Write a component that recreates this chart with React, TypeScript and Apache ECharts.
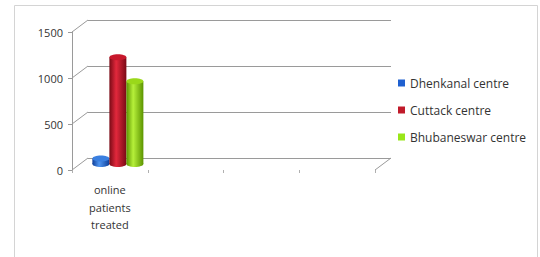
import React, { useEffect, useRef } from "react";
import * as echarts from "echarts";

const categories = ["online\npatients\ntreated", "", "", ""];
const seriesNames = ["Dhenkanal centre", "Cuttack centre", "Bhubaneswar centre"];
const dhenkanal = [60, null, null, null];
const cuttack = [1160, null, null, null];
const bhubaneswar = [900, null, null, null];
const yTicks = [0, 500, 1000, 1500];

const palette = [
  { dark: "#0e3f9a", light: "#4f95f0", top: "#3a7fe0", legend: "#1f60d0" },
  { dark: "#7a0a16", light: "#e2283c", top: "#c8182c", legend: "#c01a2a" },
  { dark: "#5c9400", light: "#b6f03a", top: "#9ad81a", legend: "#99e619" },
];

const hiddenAxis = {
  show: false,
  axisLine: { show: false, onZero: false },
  axisTick: { show: false },
  axisLabel: { show: false },
  splitLine: { show: false },
  splitArea: { show: false },
  axisPointer: { show: false },
};

export default function App() {
  const ref = useRef<HTMLDivElement>(null);
  useEffect(() => {
    if (!ref.current) return;
    const chart = echarts.init(ref.current, undefined, { renderer: "svg" });
    const values = [dhenkanal, cuttack, bhubaneswar];
    const barW = 17;
    const dx = 16;
    const dy = -12;

    const barSeries = values.map((arr, i) => ({
      name: seriesNames[i],
      type: "custom",
      xAxisIndex: 1,
      yAxisIndex: 1,
      z: 5,
      itemStyle: { color: palette[i].legend },
      encode: { x: 0, y: 1 },
      data: arr
        .map((v, c) => (v == null ? null : [c, v]))
        .filter((d) => d != null),
      renderItem: (params: any, api: any) => {
        const c = api.value(0);
        const v = api.value(1);
        const top = api.coord([c, v]);
        const base = api.coord([c, 0]);
        const cx = top[0] + (i - 1) * barW;
        const rx = barW / 2;
        const ry = 3;
        const grad = new echarts.graphic.LinearGradient(0, 0, 1, 0, [
          { offset: 0, color: palette[i].dark },
          { offset: 0.4, color: palette[i].light },
          { offset: 1, color: palette[i].dark },
        ]);
        return {
          type: "group",
          children: [
            { type: "ellipse", shape: { cx, cy: base[1], rx, ry }, style: { fill: grad } },
            {
              type: "rect",
              shape: { x: cx - rx, y: top[1], width: barW, height: base[1] - top[1] },
              style: { fill: grad },
            },
            { type: "ellipse", shape: { cx, cy: top[1], rx, ry }, style: { fill: palette[i].top } },
          ],
        };
      },
    }));

    const frameSeries = {
      type: "custom",
      xAxisIndex: 2,
      yAxisIndex: 2,
      z: 1,
      silent: true,
      encode: { x: 0, y: 1 },
      data: yTicks.map((v) => [0, v]),
      renderItem: (params: any, api: any) => {
        const v = api.value(1);
        const p0 = api.coord([0, v]);
        const p1 = api.coord([4, v]);
        const st = { stroke: "#9a9a9a", lineWidth: 1 };
        const children: any[] = [
          { type: "line", shape: { x1: p0[0] - dx, y1: p0[1] - dy, x2: p0[0], y2: p0[1] }, style: st },
        ];
        if (v === 0) {
          children.push({
            type: "line",
            shape: { x1: p1[0] - dx, y1: p1[1] - dy, x2: p1[0], y2: p1[1] },
            style: st,
          });
        }
        return { type: "group", children };
      },
    };

    chart.setOption({
      animation: false,
      backgroundColor: "#ffffff",
      textStyle: { fontFamily: "Open Sans" },
      tooltip: { show: false },
      graphic: [
        {
          type: "rect",
          shape: { x: 14.5, y: 5.5, width: 523, height: 270 },
          style: { fill: "none", stroke: "#d4d4d4", lineWidth: 1 },
          silent: true,
        },
      ],
      legend: {
        orient: "vertical",
        left: 393,
        top: 71,
        icon: "rect",
        itemWidth: 7,
        itemHeight: 7,
        itemGap: 13,
        data: seriesNames,
        textStyle: { fontSize: 12, color: "#333333", lineHeight: 14, fontFamily: "Open Sans" },
      },
      grid: [
        { left: 72, right: 165, top: 32, bottom: 87, show: false },
        { left: 80, right: 157, top: 26, bottom: 93, show: false },
        { left: 88, right: 149, top: 20, bottom: 99, show: false },
      ],
      xAxis: [
        {
          type: "category",
          gridIndex: 0,
          data: categories,
          axisLine: { show: false },
          axisTick: { show: true, length: 3, lineStyle: { color: "#b0b0b0" } },
          axisLabel: { fontSize: 11, color: "#333333", lineHeight: 17.5, margin: 11, interval: 0 },
        },
        { type: "category", gridIndex: 1, data: categories, ...hiddenAxis },
        { type: "value", gridIndex: 2, min: 0, max: 4, ...hiddenAxis },
      ],
      yAxis: [
        {
          type: "value",
          gridIndex: 0,
          min: 0,
          max: 1500,
          interval: 500,
          splitLine: { show: false },
          axisLine: { show: true, lineStyle: { color: "#9a9a9a" } },
          axisTick: { show: true, length: 4, lineStyle: { color: "#9a9a9a" } },
          axisLabel: { fontSize: 11, color: "#333333", margin: 9, formatter: (v: number) => String(v) },
        },
        { type: "value", gridIndex: 1, min: 0, max: 1500, interval: 500, ...hiddenAxis },
        {
          type: "value",
          gridIndex: 2,
          min: 0,
          max: 1500,
          interval: 500,
          show: true,
          axisLine: { show: false, onZero: false },
          axisTick: { show: false },
          axisLabel: { show: false },
          splitLine: { show: true, lineStyle: { color: "#9a9a9a", width: 1 } },
        },
      ],
      series: [frameSeries, ...barSeries],
    });
    return () => chart.dispose();
  }, []);
  return <div ref={ref} style={{ position: "absolute", left: 0, top: 0, width: 540, height: 257 }} />;
}
